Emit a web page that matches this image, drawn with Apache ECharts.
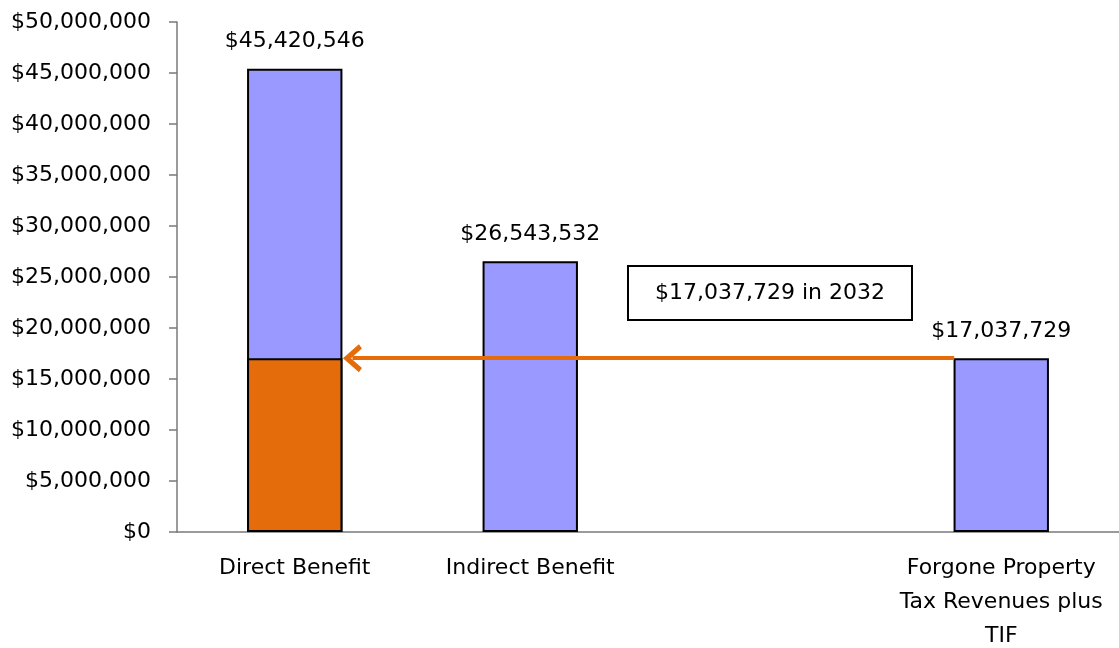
<!DOCTYPE html>
<html>
<head>
<meta charset="utf-8">
<script src="https://cdn.jsdelivr.net/npm/echarts@6/dist/echarts.min.js"></script>
<style>
  html, body { margin: 0; padding: 0; background: #fff; }
  #chart { width: 1119px; height: 648px; }
</style>
</head>
<body>
<div id="chart"></div>
<script>
// chart data
const categories = ['Direct Benefit', 'Indirect Benefit', '', 'Forgone Property\nTax Revenues plus\nTIF'];
const benefitValues = [45420546, 26543532, '-', 17037729];
const forgoneOverlay = [17037729, '-', '-', '-'];
const yTicks = { min: 0, max: 50000000, interval: 5000000 };
// arrow runs from the forgone bar back to the direct benefit bar (category units, 0..4)
const arrowValue = 17037729;
const arrowFrom = 3.3;
const arrowTo = 0.745;
const noteText = '$17,037,729 in 2032';

const money = v => '$' + Number(v).toLocaleString('en-US');
const font = 'DejaVu Sans';
const axisGray = '#7a7a7a';

const chart = echarts.init(document.getElementById('chart'));

chart.setOption({
  animation: false,
  textStyle: { fontFamily: font },
  grid: { left: 177, right: 0, top: 22, bottom: 116, outerBoundsMode: 'none', containLabel: false },
  xAxis: [{
    type: 'category',
    data: categories,
    axisLine: { lineStyle: { color: axisGray, width: 1.5 } },
    axisTick: { alignWithLabel: false, length: 11, lineStyle: { color: axisGray, width: 1.5 } },
    axisLabel: { interval: 0, color: '#000', fontSize: 22, margin: 19, lineHeight: 34, fontFamily: font }
  }, {
    type: 'value', min: 0, max: 4, show: false
  }],
  yAxis: {
    type: 'value',
    min: yTicks.min, max: yTicks.max, interval: yTicks.interval,
    splitLine: { show: false },
    axisLine: { show: true, lineStyle: { color: axisGray, width: 1.5 } },
    axisTick: { show: true, length: 8, lineStyle: { color: axisGray, width: 1.5 } },
    axisLabel: { color: '#000', fontSize: 22, margin: 26, formatter: money, fontFamily: font }
  },
  series: [{
    type: 'bar',
    data: benefitValues,
    barWidth: '40.5%',
    barGap: '-100%',
    itemStyle: { color: '#9999FF', borderColor: '#000', borderWidth: 2 },
    label: { show: true, position: 'top', distance: 16, color: '#000', fontSize: 22, formatter: p => money(p.value) }
  }, {
    type: 'bar',
    data: forgoneOverlay,
    barWidth: '40.5%',
    z: 3,
    itemStyle: { color: '#E46C0A', borderColor: '#000', borderWidth: 2 }
  }, {
    type: 'line',
    xAxisIndex: 1,
    data: [],
    markLine: {
      silent: true,
      symbol: ['none', 'path://M0,13 L10,0 L20,13 L17,15.5 L10,6.5 L3,15.5 Z'],
      symbolSize: [28, 19],
      label: { show: false },
      lineStyle: { color: '#E46C0A', width: 4, type: 'solid' },
      data: [[
        { coord: [arrowFrom, arrowValue] },
        { coord: [arrowTo, arrowValue] }
      ]]
    }
  }],
  graphic: [{
    type: 'text',
    left: 627, top: 265,
    style: {
      text: noteText,
      font: '22px "' + font + '"',
      fill: '#000',
      backgroundColor: '#fff',
      borderColor: '#000',
      borderWidth: 2,
      padding: [15, 26, 15, 26]
    }
  }]
});
</script>
</body>
</html>
